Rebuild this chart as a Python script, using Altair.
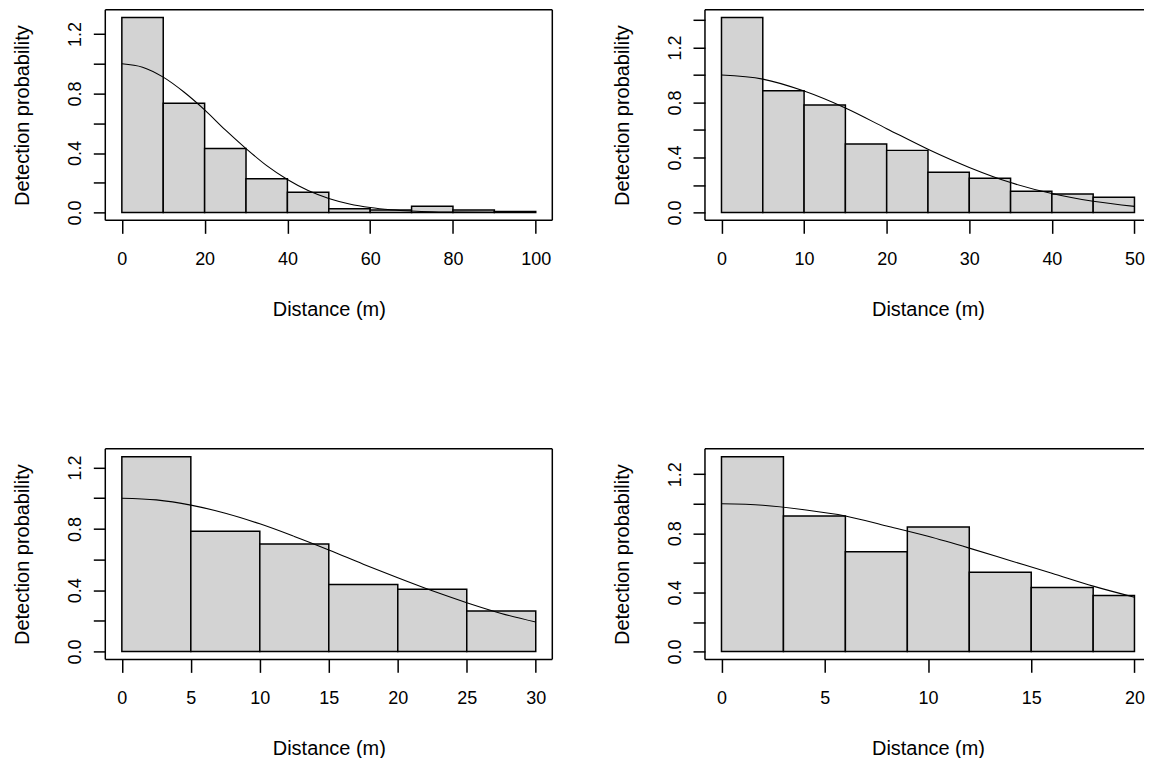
import json
import altair as alt
import pandas as pd

# ---------------- data ----------------
# Panel 1 (0-100 m)
p1_breaks = [0, 10, 20, 30, 40, 50, 60, 70, 80, 90, 100]
p1_heights = [1.31, 0.734, 0.431, 0.228, 0.137, 0.025, 0.017, 0.042, 0.018, 0.007]
p1_curve_x = [0, 5, 10, 15, 20, 25, 30, 35, 40, 45, 50, 55, 60, 65, 70, 75, 80, 90, 100]
p1_curve_y = [1.0, 0.977, 0.91, 0.81, 0.69, 0.555, 0.43, 0.315, 0.222, 0.148, 0.095,
              0.058, 0.034, 0.019, 0.010, 0.005, 0.003, 0.001, 0.0]
p1_xticks = [0, 20, 40, 60, 80, 100]

# Panel 2 (0-50 m)
p2_breaks = [0, 5, 10, 15, 20, 25, 30, 35, 40, 45, 50]
p2_heights = [1.417, 0.885, 0.781, 0.498, 0.452, 0.293, 0.249, 0.155, 0.135, 0.111]
p2_curve_x = [0, 5, 10, 15, 20, 25, 30, 35, 40, 45, 50]
p2_curve_y = [1.0, 0.97, 0.883, 0.76, 0.61, 0.46, 0.328, 0.218, 0.138, 0.082, 0.045]
p2_xticks = [0, 10, 20, 30, 40, 50]

# Panel 3 (0-30 m)
p3_breaks = [0, 5, 10, 15, 20, 25, 30]
p3_heights = [1.271, 0.784, 0.702, 0.438, 0.407, 0.264]
p3_curve_x = [0, 2.5, 5, 7.5, 10, 12.5, 15, 17.5, 20, 22.5, 25, 27.5, 30]
p3_curve_y = [1.0, 0.989, 0.955, 0.902, 0.833, 0.751, 0.663, 0.570, 0.481, 0.396,
              0.319, 0.249, 0.193]
p3_xticks = [0, 5, 10, 15, 20, 25, 30]

# Panel 4 (0-20 m)
p4_breaks = [0, 3, 6, 9, 12, 15, 18, 20]
p4_heights = [1.319, 0.917, 0.676, 0.843, 0.537, 0.434, 0.38]
p4_curve_x = [0, 2, 4, 6, 8, 10, 12, 14, 16, 18, 20]
p4_curve_y = [1.0, 0.99, 0.96, 0.918, 0.85, 0.78, 0.70, 0.615, 0.53, 0.443, 0.368]
p4_xticks = [0, 5, 10, 15, 20]

y_ticks_a = [0, 0.2, 0.4, 0.6, 0.8, 1.0, 1.2]
y_ticks_b = [0, 0.2, 0.4, 0.6, 0.8, 1.0, 1.2, 1.4]
y_labels = [0, 0.4, 0.8, 1.2]

x_title = "Distance (m)"
y_title = "Detection probability"

# ---------------- styling / layout ----------------
FONT = "Liberation Sans"
H = 211          # plot box height
W_LEFT = 448     # plot box width, left column
W_FULL = 447     # full box width of right column (cropped in the original)
W_RIGHT = 440    # visible part of the right column box
LW = 1.5


def panel(breaks, heights, cx, cy, xticks, yticks, W, W_full, right_side=True):
    lo, hi = breaks[0], breaks[-1]
    ext = 0.04 * (hi - lo)
    d_lo, d_hi = lo - ext, hi + ext
    d_hi = d_lo + (d_hi - d_lo) * W / W_full   # crop for the right-hand column
    M = max(heights)
    xs = alt.Scale(domain=[d_lo, d_hi], nice=False, zero=False)
    ys = alt.Scale(domain=[-0.04 * M, 1.04 * M], nice=False, zero=False)

    xaxis = alt.Axis(
        values=xticks, format="d", domain=False, grid=False,
        tickSize=13, tickWidth=LW, tickColor="black",
        labelFont=FONT, labelFontSize=18, labelColor="black",
        labelPadding=31, labelBaseline="alphabetic", labelFlush=False,
        labelOverlap=False,
        title=x_title, titleFont=FONT, titleFontSize=20, titleFontWeight="normal",
        titleColor="black", titleBaseline="alphabetic", titleY=95,
        titleX=W_full / 2,
    )
    label_test = "indexof(" + json.dumps(y_labels) + ", datum.value) >= 0"
    yaxis = alt.Axis(
        values=yticks, domain=False, grid=False,
        tickSize=12, tickWidth=LW, tickColor="black",
        labelFont=FONT, labelFontSize=18, labelColor="black",
        labelExpr=label_test + " ? format(datum.value, '.1f') : ''",
        labelAngle=270, labelAlign="center", labelBaseline="alphabetic",
        labelPadding=13, labelFlush=False, labelOverlap=False,
        title=y_title, titleFont=FONT, titleFontSize=20, titleFontWeight="normal",
        titleColor="black", titleAngle=270, titleBaseline="alphabetic",
        titleAlign="center", titleX=-77, titleY=H / 2,
    )

    bars_df = pd.DataFrame({"x0": breaks[:-1], "x1": breaks[1:], "h": heights})
    curve_df = pd.DataFrame({"x": cx, "y": cy})

    bars = alt.Chart(bars_df).mark_rect(
        fill="#D3D3D3", stroke="black", strokeWidth=LW
    ).encode(
        x=alt.X("x0:Q", scale=xs, axis=xaxis),
        x2="x1:Q",
        y=alt.Y("h:Q", scale=ys, axis=yaxis),
        y2=alt.datum(0),
    )
    curve = alt.Chart(curve_df).mark_line(
        color="black", strokeWidth=1.1, interpolate="monotone"
    ).encode(
        x=alt.X("x:Q", scale=xs, axis=xaxis),
        y=alt.Y("y:Q", scale=ys, axis=yaxis),
    )

    dummy = pd.DataFrame({"k": [0]})
    frame_mark = dict(color="black", strokeWidth=LW)
    top = alt.Chart(dummy).mark_rule(**frame_mark).encode(
        x=alt.value(0), x2=alt.value(W), y=alt.value(0))
    bottom = alt.Chart(dummy).mark_rule(**frame_mark).encode(
        x=alt.value(0), x2=alt.value(W), y=alt.value(H))
    left = alt.Chart(dummy).mark_rule(**frame_mark).encode(
        x=alt.value(0), y=alt.value(0), y2=alt.value(H))
    layers = [bars, curve, top, bottom, left]
    if right_side:
        right = alt.Chart(dummy).mark_rule(**frame_mark).encode(
            x=alt.value(W), y=alt.value(0), y2=alt.value(H))
        layers.append(right)
    return alt.layer(*layers).properties(width=W, height=H)


p1 = panel(p1_breaks, p1_heights, p1_curve_x, p1_curve_y, p1_xticks, y_ticks_a,
           W_LEFT, W_LEFT)
p2 = panel(p2_breaks, p2_heights, p2_curve_x, p2_curve_y, p2_xticks, y_ticks_b,
           W_RIGHT, W_FULL, right_side=False)
p3 = panel(p3_breaks, p3_heights, p3_curve_x, p3_curve_y, p3_xticks, y_ticks_a,
           W_LEFT, W_LEFT)
p4 = panel(p4_breaks, p4_heights, p4_curve_x, p4_curve_y, p4_xticks, y_ticks_a,
           W_RIGHT, W_FULL, right_side=False)

chart = alt.concat(
    p1, p2, p3, p4, columns=2,
    spacing=alt.RowColnumber(row=229, column=153),
    bounds="flush",
).properties(
    padding={"left": 4.5, "top": 0, "right": 1, "bottom": -1},
    background="white",
).configure_view(stroke=None)

chart.save("out.html", embed_options={"renderer": "svg", "actions": False})
